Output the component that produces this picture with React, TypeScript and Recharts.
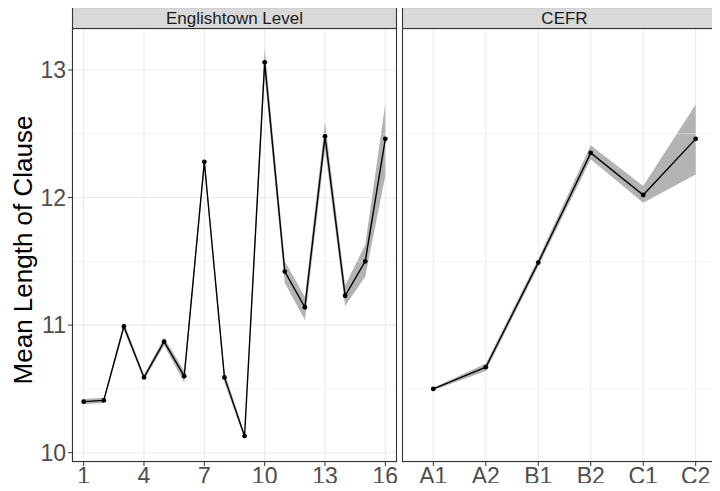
import React from "react";
import {
  ComposedChart,
  Area,
  Line,
  XAxis,
  YAxis,
  CartesianGrid,
  ReferenceLine,
} from "recharts";

const engLevels = [1, 2, 3, 4, 5, 6, 7, 8, 9, 10, 11, 12, 13, 14, 15, 16];
const engMean = [10.4, 10.41, 10.99, 10.59, 10.87, 10.6, 12.28, 10.59, 10.13, 13.06, 11.42, 11.14, 12.48, 11.23, 11.5, 12.46];
const engLow = [10.38, 10.39, 10.96, 10.57, 10.84, 10.55, 12.25, 10.55, 10.11, 12.96, 11.33, 11.04, 12.38, 11.15, 11.38, 12.17];
const engHigh = [10.42, 10.43, 11.02, 10.61, 10.9, 10.64, 12.31, 10.63, 10.15, 13.17, 11.5, 11.22, 12.59, 11.31, 11.63, 12.74];

const cefrLevels = ["A1", "A2", "B1", "B2", "C1", "C2"];
const cefrMean = [10.5, 10.67, 11.49, 12.35, 12.02, 12.46];
const cefrLow = [10.49, 10.64, 11.46, 12.3, 11.96, 12.18];
const cefrHigh = [10.51, 10.7, 11.52, 12.41, 12.09, 12.73];

const engTicks = [1, 4, 7, 10, 13, 16];
const yTicks = [10, 11, 12, 13];
const yMinor = [10.5, 11.5, 12.5];
const stripLabels = ["Englishtown Level", "CEFR"];
const yTitle = "Mean Length of Clause";

const engData = engLevels.map((x, i) => ({
  x,
  mean: engMean[i],
  ci: [engLow[i], engHigh[i]],
}));
const cefrData = cefrLevels.map((label, i) => ({
  x: i + 1,
  label,
  mean: cefrMean[i],
  ci: [cefrLow[i], cefrHigh[i]],
}));

const FONT = "'Liberation Sans', Arial, Helvetica, sans-serif";
const Y_DOMAIN: [number, number] = [9.927, 13.329];
const GRID = "#EBEBEB";

function Series() {
  return null;
}

export default function App() {
  const tickStyle = { fill: "#4D4D4D", fontSize: 23, fontFamily: FONT };
  return (
    <div
      style={{
        position: "relative",
        margin: -8,
        width: 720,
        height: 491,
        overflow: "hidden",
        background: "#fff",
      }}
    >
      <div style={{ position: "absolute", left: 0, top: 0 }}>
        <ComposedChart
          width={397}
          height={491}
          data={engData}
          margin={{ top: 28, right: 0, bottom: 0, left: 0 }}
        >
          <CartesianGrid stroke={GRID} strokeWidth={1.1} />
          {yMinor.map((v) => (
            <ReferenceLine key={v} y={v} stroke={GRID} strokeWidth={0.6} />
          ))}
          <XAxis
            type="number"
            dataKey="x"
            domain={[0.42, 16.58]}
            ticks={engTicks}
            allowDataOverflow
            height={29}
            axisLine={false}
            tickLine={{ stroke: "#333333" }}
            tickSize={4}
            tick={tickStyle}
            interval={0}
          />
          <YAxis
            type="number"
            domain={Y_DOMAIN}
            ticks={yTicks}
            allowDataOverflow
            width={72}
            axisLine={false}
            tickLine={{ stroke: "#333333" }}
            tickSize={4}
            tick={tickStyle}
            interval={0}
          />
          <Area
            dataKey="ci"
            stroke="none"
            fill="#B3B3B3"
            fillOpacity={1}
            isAnimationActive={false}
            type="linear"
            activeDot={false}
          />
          <Line
            dataKey="mean"
            stroke="#000"
            strokeWidth={1.4}
            type="linear"
            dot={{ r: 2.4, fill: "#000", stroke: "none" }}
            activeDot={false}
            isAnimationActive={false}
          />
        </ComposedChart>
      </div>
      <div style={{ position: "absolute", left: 402, top: 0 }}>
        <ComposedChart
          width={325}
          height={491}
          data={cefrData}
          margin={{ top: 28, right: 0, bottom: 0, left: 0 }}
        >
          <CartesianGrid stroke={GRID} strokeWidth={1.1} />
          {yMinor.map((v) => (
            <ReferenceLine key={v} y={v} stroke={GRID} strokeWidth={0.6} />
          ))}
          <XAxis
            type="number"
            dataKey="x"
            domain={[0.403, 6.597]}
            ticks={[1, 2, 3, 4, 5, 6]}
            tickFormatter={(v: number) => cefrLevels[v - 1] ?? ""}
            allowDataOverflow
            height={29}
            axisLine={false}
            tickLine={{ stroke: "#333333" }}
            tickSize={4}
            tick={tickStyle}
            interval={0}
          />
          <YAxis
            type="number"
            domain={Y_DOMAIN}
            ticks={yTicks}
            allowDataOverflow
            width={0}
            axisLine={false}
            tickLine={false}
            tick={false}
          />
          <Area
            dataKey="ci"
            stroke="none"
            fill="#B3B3B3"
            fillOpacity={1}
            isAnimationActive={false}
            type="linear"
            activeDot={false}
          />
          <Line
            dataKey="mean"
            stroke="#000"
            strokeWidth={1.4}
            type="linear"
            dot={{ r: 2.4, fill: "#000", stroke: "none" }}
            activeDot={false}
            isAnimationActive={false}
          />
        </ComposedChart>
      </div>
      <svg
        width={720}
        height={491}
        style={{ position: "absolute", left: 0, top: 0, pointerEvents: "none" }}
      >
        <rect x={72.5} y={28.5} width={324} height={433} fill="none" stroke="#333333" strokeWidth={1.1} />
        <rect x={402.5} y={28.5} width={325} height={433} fill="none" stroke="#333333" strokeWidth={1.1} />
        <rect x={72.5} y={7.5} width={324} height={21} fill="#D9D9D9" stroke="#333333" strokeWidth={1.1} />
        <rect x={402.5} y={7.5} width={325} height={21} fill="#D9D9D9" stroke="#333333" strokeWidth={1.1} />
        <text
          x={234.5}
          y={18}
          textAnchor="middle"
          dominantBaseline="central"
          fontFamily={FONT}
          fontSize={17}
          fill="#1A1A1A"
        >
          {stripLabels[0]}
        </text>
        <text
          x={564.5}
          y={18}
          textAnchor="middle"
          dominantBaseline="central"
          fontFamily={FONT}
          fontSize={17}
          fill="#1A1A1A"
        >
          {stripLabels[1]}
        </text>
        <text
          x={0}
          y={0}
          transform="translate(32, 250) rotate(-90)"
          textAnchor="middle"
          fontFamily={FONT}
          fontSize={26}
          fill="#000"
        >
          {yTitle}
        </text>
      </svg>
    </div>
  );
}
